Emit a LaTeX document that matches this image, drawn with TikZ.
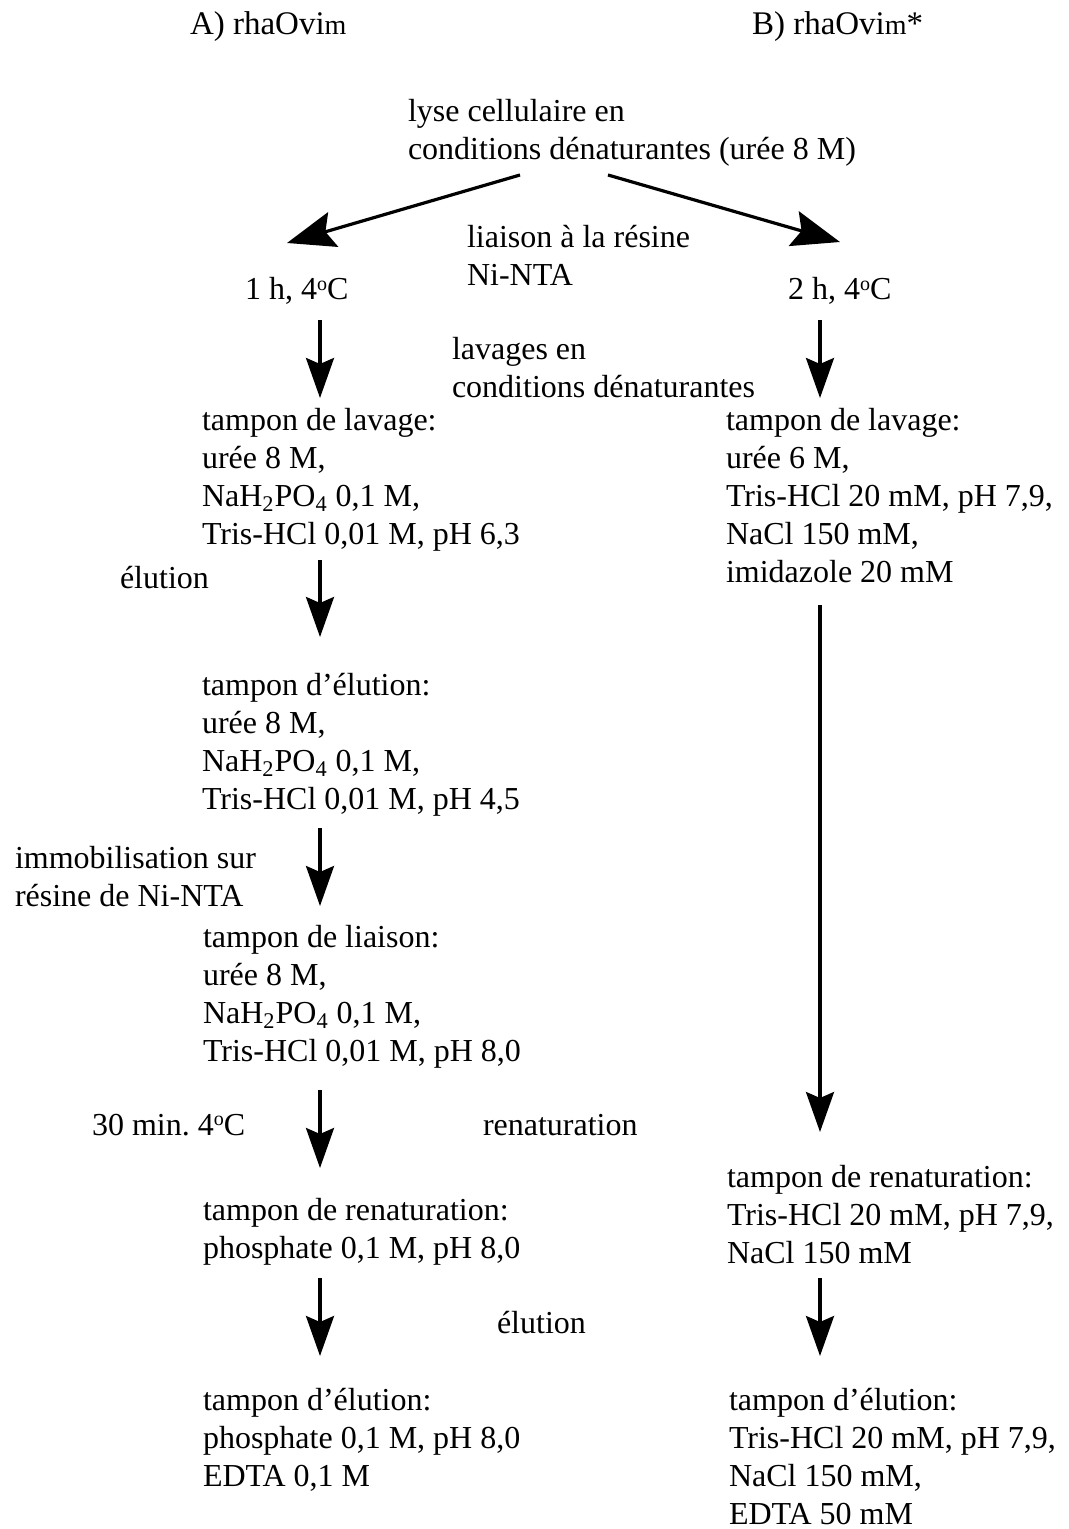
\documentclass[tikz,border=0pt]{standalone}
\usepackage{fontspec}
\setmainfont{Liberation Serif}
\usetikzlibrary{arrows.meta}
\newcommand{\mylines}[1]{\begin{tabular}[t]{@{}l@{}}#1\end{tabular}}
\newcommand{\degC}{\raisebox{0.62ex}{\fontsize{10}{10}\selectfont o}C}
\newcommand{\smm}{{\fontsize{14}{16}\selectfont m}}
\frenchspacing
\begin{document}
\frenchspacing
\begin{tikzpicture}[x=0.5pt,y=-0.5pt,
  txt/.style={anchor=base west, inner sep=0pt, outer sep=0pt, font=\fontsize{16}{19}\selectfont},
  head/.style={anchor=base west, inner sep=0pt, outer sep=0pt, font=\fontsize{16.5}{19}\selectfont},
  flow/.style={line width=1.6pt, -{Stealth[length=20pt,width=14pt,inset=3pt]}},
  bigflow/.style={line width=1.6pt, -{Stealth[length=24pt,width=18pt,inset=4pt]}}]
\useasboundingbox (0,0) rectangle (1069,1529);
\fill[white] (0,0) rectangle (1069,1529);

% titles
\node[head] (titleA) at (190,35) {A) rhaOvi\smm};
\node[head] (titleB) at (752,35) {B) rhaOvi\smm*};

% text nodes
\node[txt] (lyse) at (408,122) {\mylines{lyse cellulaire en\\conditions dénaturantes (urée 8 M)}};
\node[txt] (liaison) at (467,248) {\mylines{liaison à la résine\\Ni-NTA}};
\node[txt] (condA) at (245,300) {1 h, 4\degC};
\node[txt] (condB) at (788,300) {2 h, 4\degC};
\node[txt] (lavages) at (452,360) {\mylines{lavages en\\conditions dénaturantes}};
\node[txt] (lavA) at (202,430) {\mylines{tampon de lavage:\\urée 8 M,\\NaH\textsubscript{2}PO\textsubscript{4} 0,1 M,\\Tris-HCl 0,01 M, pH 6,3}};
\node[txt] (lavB) at (726,430) {\mylines{tampon de lavage:\\urée 6 M,\\Tris-HCl 20 mM, pH 7,9,\\NaCl 150 mM,\\imidazole 20 mM}};
\node[txt] (elu1) at (120,588) {élution};
\node[txt] (eluA) at (202,695) {\mylines{tampon d’élution:\\urée 8 M,\\NaH\textsubscript{2}PO\textsubscript{4} 0,1 M,\\Tris-HCl 0,01 M, pH 4,5}};
\node[txt] (immob) at (15,868) {\mylines{immobilisation sur\\résine de Ni-NTA}};
\node[txt] (liaisonA) at (203,947) {\mylines{tampon de liaison:\\urée 8 M,\\NaH\textsubscript{2}PO\textsubscript{4} 0,1 M,\\Tris-HCl 0,01 M, pH 8,0}};
\node[txt] (trente) at (92,1135) {30 min. 4\degC};
\node[txt] (renat) at (483,1135) {renaturation};
\node[txt] (renA) at (203,1220) {\mylines{tampon de renaturation:\\phosphate 0,1 M, pH 8,0}};
\node[txt] (renB) at (727,1187) {\mylines{tampon de renaturation:\\Tris-HCl 20 mM, pH 7,9,\\NaCl 150 mM}};
\node[txt] (elu2) at (497,1333) {élution};
\node[txt] (finA) at (203,1410) {\mylines{tampon d’élution:\\phosphate 0,1 M, pH 8,0\\EDTA 0,1 M}};
\node[txt] (finB) at (729,1410) {\mylines{tampon d’élution:\\Tris-HCl 20 mM, pH 7,9,\\NaCl 150 mM,\\EDTA 50 mM}};

% arrow end points
\coordinate (d1s) at (520,175); \coordinate (d1e) at (287,243);
\coordinate (d2s) at (608,175); \coordinate (d2e) at (840,242);
\coordinate (v1s) at (320,320); \coordinate (v1e) at (320,398);
\coordinate (v2s) at (820,320); \coordinate (v2e) at (820,398);
\coordinate (v3s) at (320,560); \coordinate (v3e) at (320,637);
\coordinate (v4s) at (820,605); \coordinate (v4e) at (820,1132);
\coordinate (v5s) at (320,828); \coordinate (v5e) at (320,906);
\coordinate (v6s) at (320,1090); \coordinate (v6e) at (320,1168);
\coordinate (v7s) at (320,1278); \coordinate (v7e) at (320,1356);
\coordinate (v8s) at (820,1278); \coordinate (v8e) at (820,1356);

\draw[bigflow] (d1s) -- (d1e);
\draw[bigflow] (d2s) -- (d2e);
\draw[flow] (v1s) -- (v1e);
\draw[flow] (v2s) -- (v2e);
\draw[flow] (v3s) -- (v3e);
\draw[flow] (v4s) -- (v4e);
\draw[flow] (v5s) -- (v5e);
\draw[flow] (v6s) -- (v6e);
\draw[flow] (v7s) -- (v7e);
\draw[flow] (v8s) -- (v8e);
\end{tikzpicture}
\end{document}
